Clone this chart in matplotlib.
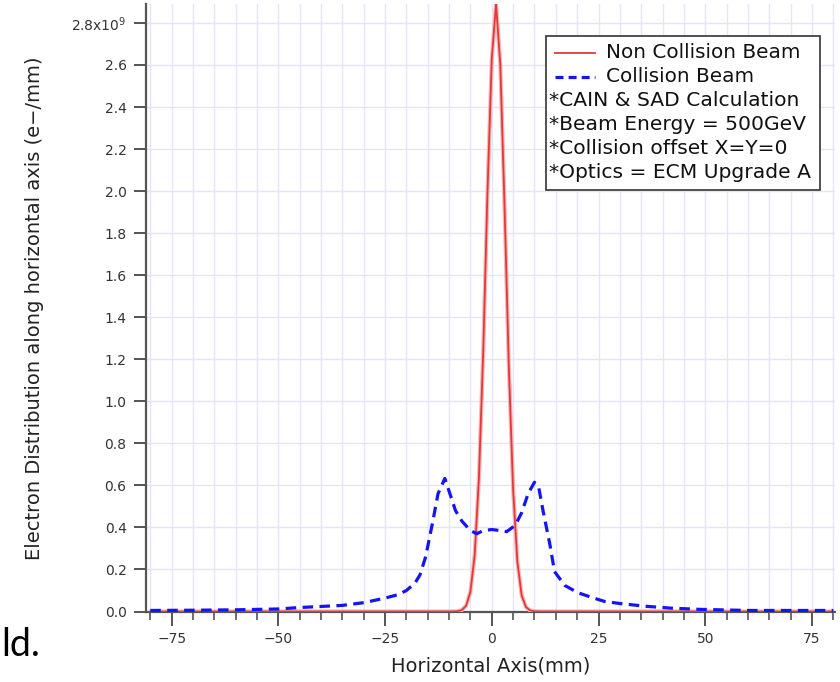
import matplotlib
matplotlib.use("Agg")
import matplotlib.pyplot as plt
from matplotlib.lines import Line2D
from matplotlib.patches import Rectangle
from matplotlib.ticker import MultipleLocator, FixedLocator

plt.rcParams['font.family'] = ['DejaVu Sans']

# Electron density along the horizontal axis, in units of 1e9 e-/mm
x_noncoll = [-80, -10, -9, -8, -7, -6, -5, -4, -3, -2, -1, 0, 1, 2, 3, 4, 5, 6,
             7, 8, 9, 10, 11, 80]
y_noncoll = [0.0, 0.0002, 0.0004, 0.0015, 0.007, 0.028, 0.095, 0.27, 0.64, 1.24,
             2.0, 2.63, 2.89, 2.60, 1.92, 1.16, 0.58, 0.235, 0.077, 0.021,
             0.005, 0.001, 0.0002, 0.0]

x_coll = [-80, -70, -60, -50, -45, -40, -35, -30, -27, -24.6, -22, -20, -18,
          -16.8, -15.5, -14.5, -13.8, -12.6, -11.0, -9.8, -8.5, -7.0, -5.0,
          -3.5, -2.0, 0.0, 2.0, 3.5, 5.5, 7.0, 8.5, 10.0, 11.0, 12.0, 13.6,
          14.7, 17.1, 20.1, 23.4, 26.4, 30, 36, 42, 49, 60, 70, 80]
y_coll = [0.005, 0.006, 0.008, 0.012, 0.019, 0.024, 0.029, 0.042, 0.055, 0.066,
          0.080, 0.100, 0.135, 0.175, 0.26, 0.36, 0.43, 0.56, 0.633, 0.56,
          0.48, 0.43, 0.385, 0.37, 0.385, 0.39, 0.385, 0.38, 0.41, 0.47, 0.56,
          0.615, 0.59, 0.48, 0.32, 0.19, 0.124, 0.09, 0.067, 0.048, 0.038,
          0.025, 0.016, 0.010, 0.005, 0.005, 0.005]

y_ticks = [0.0, 0.2, 0.4, 0.6, 0.8, 1.0, 1.2, 1.4, 1.6, 1.8, 2.0, 2.2, 2.4, 2.6, 2.8]
y_ticklabels = ['0.0', '0.2', '0.4', '0.6', '0.8', '1.0', '1.2', '1.4', '1.6',
                '1.8', '2.0', '2.2', '2.4', '2.6', r'2.8x10$^{9}$']
x_ticks = [-75, -50, -25, 0, 25, 50, 75]
x_ticklabels = ['\u221275', '\u221250', '\u221225', '0', '25', '50', '75']

legend_series = ['Non Collision Beam', 'Collision Beam']
legend_notes = ['*CAIN & SAD Calculation', '*Beam Energy = 500GeV',
                '*Collision offset X=Y=0', '*Optics = ECM Upgrade A']

red = '#e5383b'
blue = '#1414f5'
axis_col = '#555555'
grid_col = '#e4e4fb'
W, H = 840, 682

fig = plt.figure(figsize=(W / 100, H / 100), dpi=100)
ax = fig.add_axes([146 / W, 1 - 611.5 / H, (835 - 146) / W, (611.5 - 4) / H])

ax.plot(x_noncoll, y_noncoll, color='#f6b8b8', lw=3.0, zorder=3, solid_capstyle='butt')
ax.plot(x_noncoll, y_noncoll, color=red, lw=1.3, zorder=4)
ax.plot(x_coll, y_coll, color=blue, lw=2.3, dashes=(3.3, 2.0), zorder=5)

ax.set_xlim(-81, 80.4)
ax.set_ylim(0, 2.89)

ax.xaxis.set_major_locator(FixedLocator(x_ticks))
ax.set_xticklabels(x_ticklabels)
ax.xaxis.set_minor_locator(MultipleLocator(5))
ax.yaxis.set_major_locator(FixedLocator(y_ticks))
ax.set_yticklabels(y_ticklabels)

ax.grid(True, which='both', axis='x', color=grid_col, lw=1.0, zorder=0)
ax.grid(True, which='major', axis='y', color=grid_col, lw=1.0, zorder=0)
ax.set_axisbelow(True)

for side in ('top', 'right'):
    ax.spines[side].set_visible(False)
for side in ('left', 'bottom'):
    ax.spines[side].set_color(axis_col)
    ax.spines[side].set_linewidth(1.6)

ax.tick_params(axis='x', which='major', direction='out', length=10, width=1.4,
               color=axis_col, labelsize=10, labelcolor='#333333', pad=5)
ax.tick_params(axis='x', which='minor', direction='out', length=6, width=1.2,
               color=axis_col)
ax.tick_params(axis='y', which='major', direction='out', length=9, width=1.4,
               color=axis_col, labelsize=10, labelcolor='#333333', pad=5)

ax.set_xlabel('Horizontal Axis(mm)', fontsize=14, color='#222222')
ax.xaxis.set_label_coords(0.5, -(656 - 611.5) / 607.5)
ax.set_ylabel('Electron Distribution along horizontal axis (e\u2212/mm)',
              fontsize=14, color='#222222')
ax.yaxis.set_label_coords((44 - 146) / 689, 0.5)

# Legend box with series keys and calculation notes
box_x0, box_y0, box_x1, box_y1 = 546, 36, 820, 190
tr = fig.transFigure
fig.patches.append(Rectangle((box_x0 / W, 1 - box_y1 / H),
                             (box_x1 - box_x0) / W, (box_y1 - box_y0) / H,
                             transform=tr, facecolor='white', edgecolor='#333333',
                             lw=1.2, zorder=10))
row_y = [53, 77, 101, 124, 148, 172]
styles = [dict(color=red, lw=1.3), dict(color=blue, lw=2.3, dashes=(2.5, 1.6))]
for i, (label, st) in enumerate(zip(legend_series, styles)):
    yy = 1 - row_y[i] / H
    fig.lines.append(Line2D([555 / W, 595 / W], [yy, yy], transform=tr,
                            zorder=11, **st))
    fig.text(606 / W, yy, label, fontsize=14.4, va='center', ha='left',
             color='#111111', zorder=12)
for j, note in enumerate(legend_notes):
    yy = 1 - row_y[j + 2] / H
    fig.text(549 / W, yy, note, fontsize=14.6, va='center', ha='left',
             color='#111111', zorder=12)

fig.text(1 / W, 1 - 645 / H, 'ld.', fontsize=27, va='center', ha='left',
         family=['Lato', 'DejaVu Sans'], color='#000000')

fig.savefig('out.png', dpi=100)
